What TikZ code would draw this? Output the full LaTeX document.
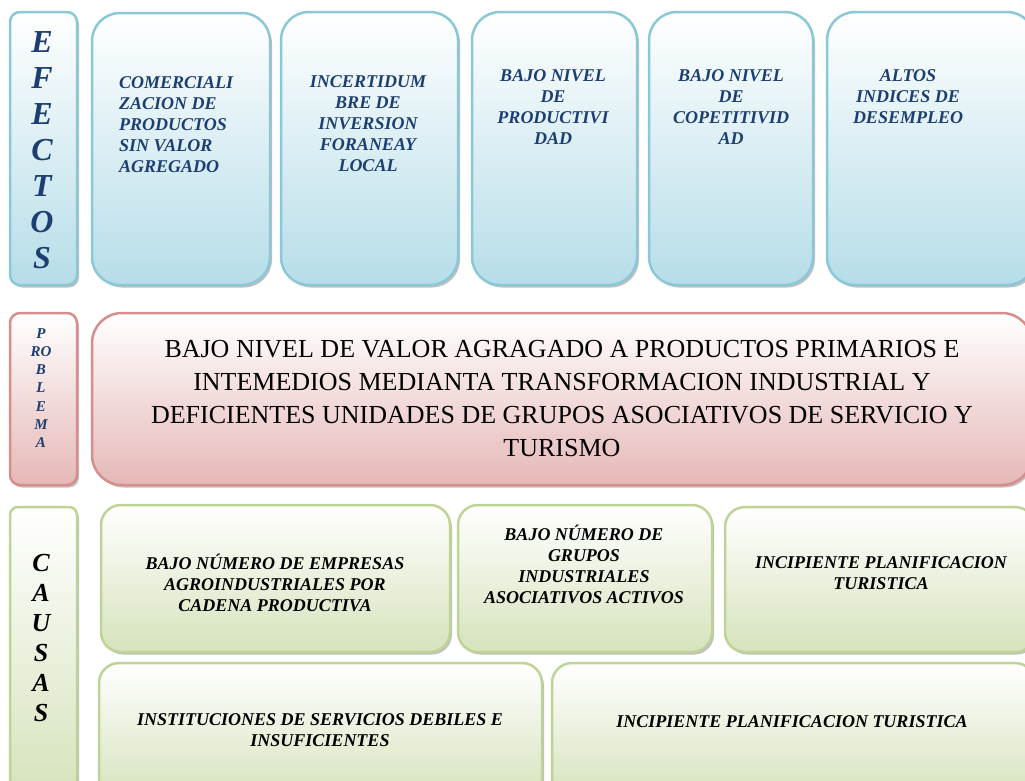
\documentclass[tikz,border=0pt]{standalone}
\usepackage{fontspec}
\setmainfont{Liberation Serif}
\usepackage{tikz}
\usetikzlibrary{shadows}
\definecolor{efline}{RGB}{138,200,216}
\definecolor{effill}{RGB}{182,221,232}
\definecolor{efink}{RGB}{28,62,112}
\definecolor{prline}{RGB}{214,142,141}
\definecolor{prfill}{RGB}{229,184,183}
\definecolor{caline}{RGB}{190,211,150}
\definecolor{cafill}{RGB}{214,227,188}
\tikzstyle{card}=[inner sep=0pt, outer sep=0pt, line width=2.5pt, drop shadow={shadow xshift=2pt, shadow yshift=-2.5pt, fill=black!50}]
\tikzstyle{efbox}=[card, draw=efline, top color=white, bottom color=effill]
\tikzstyle{prbox}=[card, draw=prline, top color=white, bottom color=prfill]
\tikzstyle{cabox}=[card, draw=caline, top color=white, bottom color=cafill]
\tikzstyle{eftext}=[inner sep=0pt, text=efink, align=center, font=\fontsize{18}{21}\selectfont\bfseries\itshape]
\tikzstyle{catext}=[inner sep=0pt, text=black, align=center, font=\fontsize{18}{21}\selectfont\bfseries\itshape]
\tikzstyle{sidetext}=[inner sep=0pt, align=center, font=\bfseries\itshape]

\begin{document}
\begin{tikzpicture}[x=1pt, y=-1pt]

      \clip (0,0) rectangle (1025,780);

      \node[efbox, minimum width=67pt, minimum height=273pt, rounded corners=10pt] (ef) at (43.5,148.5) {};
      \node[efbox, minimum width=178pt, minimum height=272pt, rounded corners=28pt] (e1) at (181,149) {};
      \node[efbox, minimum width=177pt, minimum height=273pt, rounded corners=28pt] (e2) at (369.5,148.5) {};
      \node[efbox, minimum width=165pt, minimum height=273pt, rounded corners=28pt] (e3) at (554.5,148.5) {};
      \node[efbox, minimum width=164pt, minimum height=273pt, rounded corners=28pt] (e4) at (731,148.5) {};
      \node[efbox, minimum width=208pt, minimum height=273pt, rounded corners=28pt] (e5) at (931,148.5) {};

      \node[prbox, minimum width=67pt, minimum height=172pt, rounded corners=10pt] (pl) at (43.5,399) {};
      \node[prbox, minimum width=940pt, minimum height=172pt, rounded corners=30pt] (pm) at (562,399) {};

      \node[cabox, minimum width=67pt, minimum height=288pt, rounded corners=8pt] (cl) at (43.5,651) {};
      \node[cabox, minimum width=349pt, minimum height=147pt, rounded corners=20pt] (c1) at (275.5,578.5) {};
      \node[cabox, minimum width=254pt, minimum height=147pt, rounded corners=20pt] (c2) at (585,578.5) {};
      \node[cabox, minimum width=310pt, minimum height=145pt, rounded corners=20pt] (c3) at (880,579.5) {};
      \node[cabox, minimum width=443pt, minimum height=137pt, rounded corners=20pt] (c4) at (320.5,731.5) {};
      \node[cabox, minimum width=483pt, minimum height=137pt, rounded corners=20pt] (c5) at (793.5,731.5) {};

      \node[sidetext, text=efink, font=\fontsize{32}{36}\selectfont\bfseries\itshape] (eft) at (42,150.5) {E\\F\\E\\C\\T\\O\\S};
      \node[eftext, anchor=west, align=left] (e1t) at (119,125) {COMERCIALI\\ZACION DE\\PRODUCTOS\\SIN VALOR\\AGREGADO};
      \node[eftext] (e2t) at (368,124) {INCERTIDUM\\BRE DE\\INVERSION\\FORANEAY\\LOCAL};
      \node[eftext] (e3t) at (553,107) {BAJO NIVEL\\DE\\PRODUCTIVI\\DAD};
      \node[eftext] (e4t) at (731,107) {BAJO NIVEL\\DE\\COPETITIVID\\AD};
      \node[eftext] (e5t) at (908,96.5) {ALTOS\\INDICES DE\\DESEMPLEO};

      \node[sidetext, text=efink, font=\fontsize{15}{18.3}\selectfont\bfseries\itshape] (plt) at (41,388) {P\\RO\\B\\L\\E\\M\\A};
      \node[inner sep=0pt, align=center, font=\fontsize{26}{33}\selectfont] (pmt) at (562,399) {BAJO NIVEL DE VALOR AGRAGADO A PRODUCTOS PRIMARIOS E\\INTEMEDIOS MEDIANTA TRANSFORMACION INDUSTRIAL Y\\DEFICIENTES UNIDADES DE GRUPOS ASOCIATIVOS DE SERVICIO Y\\TURISMO};

      \node[sidetext, font=\fontsize{26}{30}\selectfont\bfseries\itshape] (clt) at (41,638.5) {C\\A\\U\\S\\A\\S};
      \node[catext] (c1t) at (275,583) {BAJO NÚMERO DE EMPRESAS\\AGROINDUSTRIALES POR\\CADENA PRODUCTIVA};
      \node[catext] (c2t) at (584,564) {BAJO NÚMERO DE\\GRUPOS\\INDUSTRIALES\\ASOCIATIVOS ACTIVOS};
      \node[catext] (c3t) at (881,573.5) {INCIPIENTE PLANIFICACION\\TURISTICA};
      \node[catext] (c4t) at (320,730) {INSTITUCIONES DE SERVICIOS DEBILES E\\INSUFICIENTES};
      \node[catext] (c5t) at (792,722) {INCIPIENTE PLANIFICACION TURISTICA};

    \end{tikzpicture}
\end{document}
